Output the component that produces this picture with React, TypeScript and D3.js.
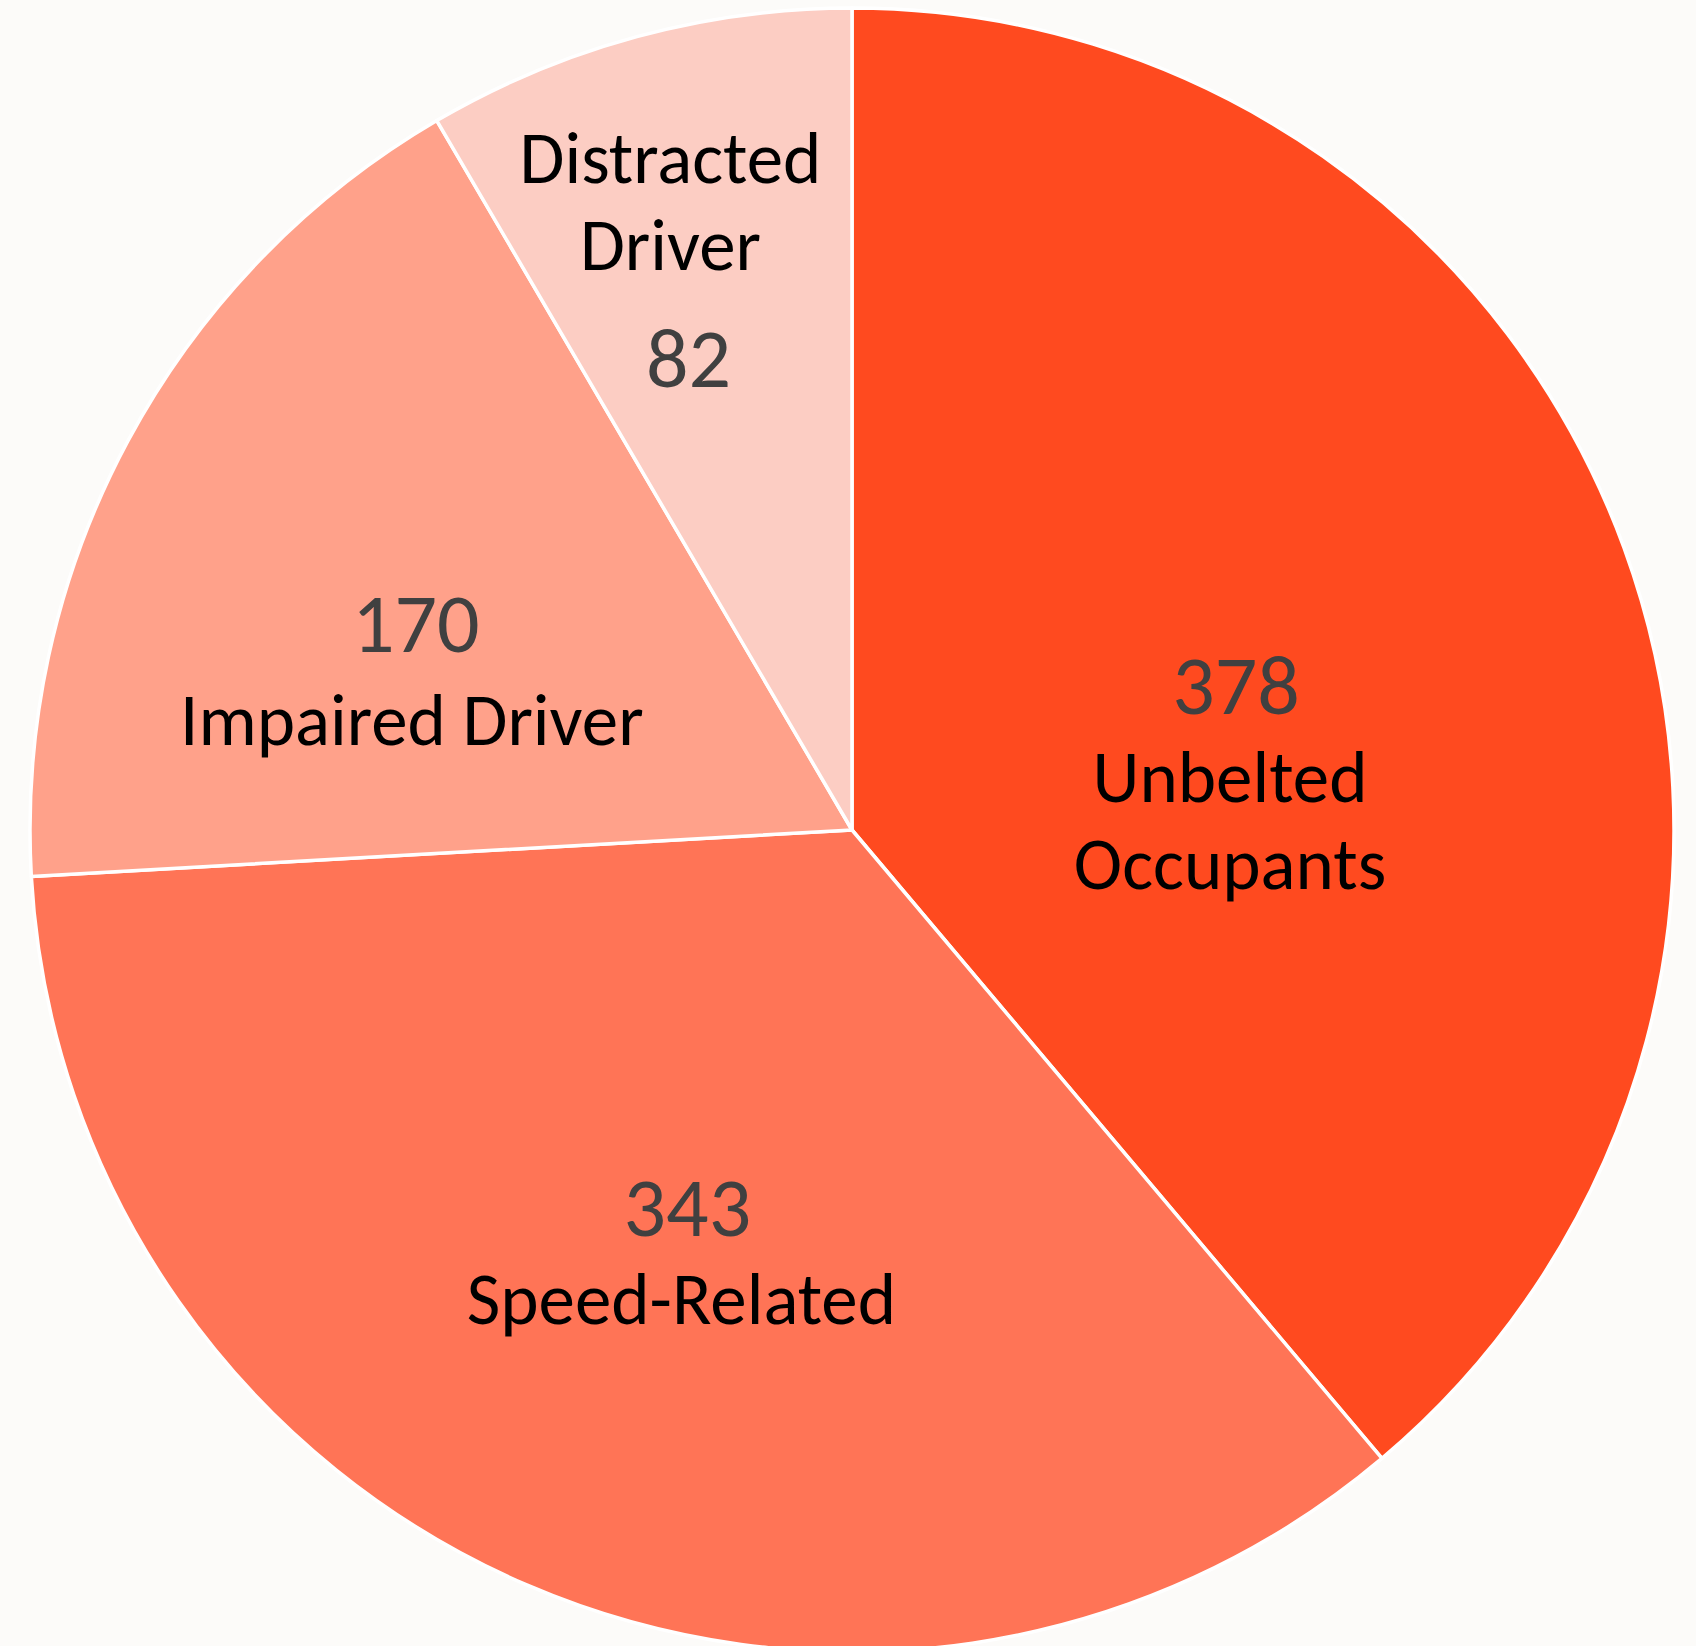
import { useMemo } from "react";
import * as d3 from "d3";

const categories = ["Unbelted Occupants", "Speed-Related", "Impaired Driver", "Distracted Driver"];
const values = [378, 343, 170, 82];
const labelLines = [["Unbelted", "Occupants"], ["Speed-Related"], ["Impaired Driver"], ["Distracted", "Driver"]];
const colors = ["#FF4A1F", "#FF7456", "#FFA18A", "#FCCDC3"];

// label placement relative to each slice's centroid (half radius)
const numberOffsets = [[-2, 25], [-2, 29], [-74, 16], [-56, -46]];
const labelOffsets = [[-8, 113], [-8, 117], [-78, 109], [-74, -250]];
const lineGap = 87;

const W = 1696;
const H = 1646;
const cx = 852;
const cy = 830;
const R = 822;

export default function App() {
  const data = useMemo(
    () => categories.map((name, i) => ({ name, value: values[i], lines: labelLines[i], color: colors[i] })),
    []
  );

  const arcs = d3.pie<any>().value(d => d.value).sort(null)(data);
  const arc = d3.arc<any>().innerRadius(0).outerRadius(R);
  const labelArc = d3.arc<any>().innerRadius(R * 0.5).outerRadius(R * 0.5);

  return (
    <div style={{ position: "absolute", left: 0, top: 0 }}>
      <svg width={W} height={H} style={{ display: "block" }}>
        <rect width={W} height={H} fill="#FCFBF9" />
        <g transform={`translate(${cx},${cy})`}>
          {arcs.map((d, i) => (
            <path key={i} d={arc(d) || ""} fill={d.data.color} stroke="#FFFFFF" strokeWidth={3.5} strokeLinejoin="round" />
          ))}
          {arcs.map((d, i) => {
            const [x, y] = labelArc.centroid(d);
            const [nx, ny] = numberOffsets[i];
            const [lx, ly] = labelOffsets[i];
            return (
              <g key={`lab-${i}`} fontFamily="Carlito, Calibri, Lato, sans-serif" textAnchor="middle">
                <text x={x + nx} y={y + ny} fontSize={84} fill="#404040">
                  {d.data.value}
                </text>
                {d.data.lines.map((line: string, j: number) => (
                  <text key={j} x={x + lx} y={y + ly + j * lineGap} fontSize={73} fill="#000000">
                    {line}
                  </text>
                ))}
              </g>
            );
          })}
        </g>
      </svg>
    </div>
  );
}
